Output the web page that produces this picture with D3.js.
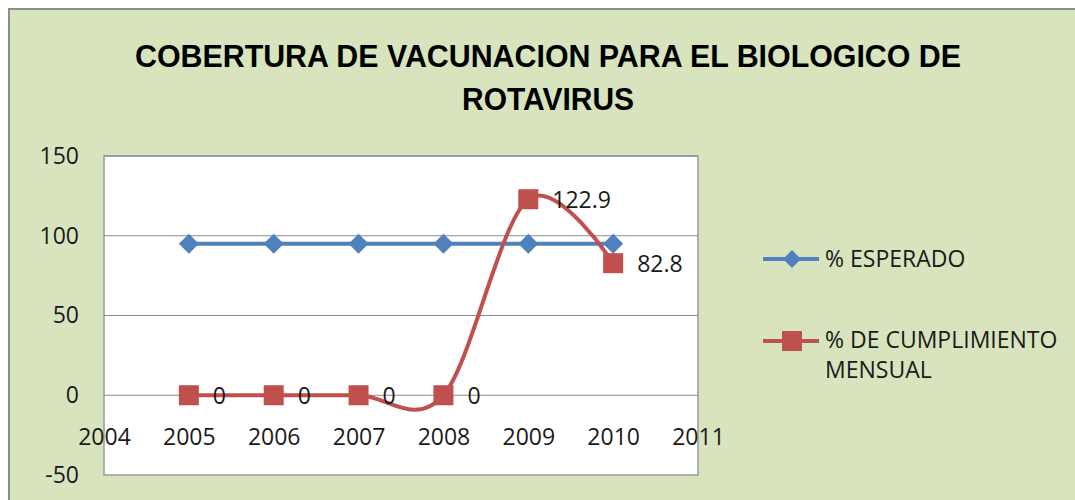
<!DOCTYPE html>
<html>
<head>
<meta charset="utf-8">
<script src="https://cdn.jsdelivr.net/npm/d3@7"></script>
<style>
  body { margin: 0; background: #fff; }
  text { font-family: "Open Sans", "Liberation Sans", sans-serif; fill: #1a1a1a; }
</style>
</head>
<body>
<div id="chart"></div>
<script>
// data
var years = [2005, 2006, 2007, 2008, 2009, 2010];
var esperado = [95, 95, 95, 95, 95, 95];
var cumplimiento = [0, 0, 0, 0, 122.9, 82.8];
var yTicks = [-50, 0, 50, 100, 150];
var xTicks = [2004, 2005, 2006, 2007, 2008, 2009, 2010, 2011];
var seriesNames = ['% ESPERADO', '% DE CUMPLIMIENTO', 'MENSUAL'];
var titleLines = ['COBERTURA DE VACUNACION PARA EL BIOLOGICO DE', 'ROTAVIRUS'];

var width = 1075, height = 500;
var plot = {left: 104, top: 156, right: 698, bottom: 475};
var blue = '#4f81bd', red = '#c0504d';
var font = '"Open Sans", "Liberation Sans", sans-serif';

var svg = d3.select('#chart').append('svg')
    .attr('width', width)
    .attr('height', height);

// chart area
svg.append('rect')
    .attr('x', 9).attr('y', 9)
    .attr('width', width + 10).attr('height', height + 10)
    .style('fill', '#d7e4bd')
    .style('stroke', '#8c8c8c')
    .style('stroke-width', 2);

// title
svg.selectAll('.title')
    .data(titleLines)
    .enter().append('text')
    .attr('class', 'title')
    .attr('x', 548)
    .attr('y', (d, i) => 67 + i * 43)
    .attr('text-anchor', 'middle')
    .attr('textLength', (d, i) => i === 0 ? 826 : 172)
    .attr('lengthAdjust', 'spacingAndGlyphs')
    .style('font-family', '"Liberation Sans", Arial, sans-serif')
    .style('font-size', '32px')
    .style('font-weight', 'bold')
    .style('fill', '#000')
    .text(d => d);

var x = d3.scaleLinear().domain([2004, 2011]).range([plot.left, plot.right]);
var y = d3.scaleLinear().domain([-50, 150]).range([plot.bottom, plot.top]);

// plot area
svg.append('rect')
    .attr('x', plot.left).attr('y', plot.top)
    .attr('width', plot.right - plot.left)
    .attr('height', plot.bottom - plot.top)
    .style('fill', '#fff')
    .style('stroke', '#9a9a9a')
    .style('stroke-width', 1.5);

// gridlines
svg.append('g')
    .selectAll('line')
    .data(yTicks.filter(d => d > -50))
    .enter().append('line')
    .attr('x1', plot.left).attr('x2', plot.right)
    .attr('y1', d => y(d)).attr('y2', d => y(d))
    .style('stroke', '#8a8a8a')
    .style('stroke-width', 1.2);

// y axis labels
var yAxis = d3.axisLeft(y).tickValues(yTicks).tickSize(0).tickPadding(25).tickFormat(d => String(d));
var gy = svg.append('g')
    .attr('transform', `translate(${plot.left},0)`)
    .call(yAxis);
gy.select('.domain').remove();
gy.selectAll('text').style('font-size', '23px').style('font-family', font).attr('fill', '#1a1a1a');

// x axis labels, sitting under the zero line
var xAxis = d3.axisBottom(x).tickValues(xTicks).tickSize(0).tickPadding(33).tickFormat(d => String(d));
var gx = svg.append('g')
    .attr('transform', `translate(0,${y(0)})`)
    .call(xAxis);
gx.select('.domain').remove();
gx.selectAll('text').style('font-size', '23px').style('font-family', font).attr('fill', '#1a1a1a');

// % ESPERADO
var line = d3.line()
    .x((d, i) => x(years[i]))
    .y(d => y(d));

svg.append('path')
    .datum(esperado)
    .attr('d', line)
    .style('fill', 'none')
    .style('stroke', blue)
    .style('stroke-width', 4);

svg.selectAll('.diamond')
    .data(esperado)
    .enter().append('path')
    .attr('class', 'diamond')
    .attr('d', 'M0,-10L10,0L0,10L-10,0Z')
    .attr('transform', (d, i) => `translate(${x(years[i])},${y(d)})`)
    .style('fill', blue);

// % DE CUMPLIMIENTO MENSUAL (smoothed)
var smooth = d3.line()
    .x((d, i) => x(years[i]))
    .y(d => y(d))
    .curve(d3.curveCardinal.tension(0));

svg.append('path')
    .datum(cumplimiento)
    .attr('d', smooth)
    .style('fill', 'none')
    .style('stroke', red)
    .style('stroke-width', 4);

svg.selectAll('.square')
    .data(cumplimiento)
    .enter().append('rect')
    .attr('class', 'square')
    .attr('x', (d, i) => x(years[i]) - 10)
    .attr('y', d => y(d) - 10)
    .attr('width', 20).attr('height', 20)
    .style('fill', red);

svg.selectAll('.label')
    .data(cumplimiento)
    .enter().append('text')
    .attr('class', 'label')
    .attr('x', (d, i) => x(years[i]) + 24)
    .attr('y', d => y(d) + 9)
    .style('font-size', '23px')
    .text(d => d);

// legend
var legend = svg.append('g');
var legendItems = [
  {color: blue, y: 259, shape: 'diamond'},
  {color: red, y: 341, shape: 'square'}
];
legendItems.forEach(function (it) {
    legend.append('line')
        .attr('x1', 763).attr('x2', 819)
        .attr('y1', it.y).attr('y2', it.y)
        .style('stroke', it.color)
        .style('stroke-width', 4);
    if (it.shape === 'diamond') {
        legend.append('path')
            .attr('d', 'M0,-9L9,0L0,9L-9,0Z')
            .attr('transform', `translate(792,${it.y})`)
            .style('fill', it.color);
    } else {
        legend.append('rect')
            .attr('x', 782).attr('y', it.y - 10)
            .attr('width', 20).attr('height', 20)
            .style('fill', it.color);
    }
});
legend.selectAll('text')
    .data(seriesNames)
    .enter().append('text')
    .attr('x', 825)
    .attr('y', (d, i) => [267, 348, 378][i])
    .style('font-size', '23px')
    .text(d => d);
</script>
</body>
</html>
